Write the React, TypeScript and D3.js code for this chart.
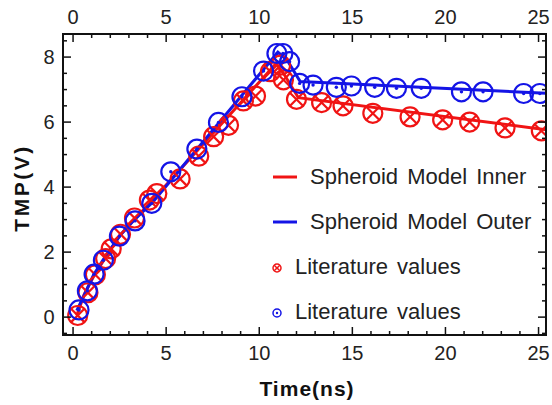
import React from "react";
import * as d3 from "d3";

const innerX = [0.25, 0.8, 1.2, 1.75, 2.05, 2.55, 3.3, 4.1, 4.5, 5.75, 6.75, 7.55, 8.35, 9.15, 9.8, 10.6, 11.15, 11.3, 12.0, 13.35, 14.5, 16.1, 18.1, 19.85, 21.3, 23.2, 25.15];
const innerY = [0.05, 0.75, 1.3, 1.8, 2.1, 2.55, 3.05, 3.6, 3.8, 4.25, 4.95, 5.55, 5.9, 6.65, 6.8, 7.55, 7.75, 7.3, 6.7, 6.6, 6.5, 6.27, 6.16, 6.07, 6.0, 5.82, 5.73];

const outerX = [0.32, 0.77, 1.13, 1.63, 2.49, 3.33, 4.23, 5.25, 6.65, 7.81, 9.07, 10.23, 10.95, 11.27, 11.63, 12.17, 12.89, 14.14, 14.95, 16.2, 17.37, 18.7, 20.86, 22.02, 24.2, 25.07];
const outerY = [0.22, 0.81, 1.32, 1.75, 2.49, 2.96, 3.5, 4.47, 5.17, 5.99, 6.78, 7.57, 8.11, 8.11, 7.86, 7.19, 7.14, 7.07, 7.11, 7.07, 7.04, 7.04, 6.93, 6.93, 6.88, 6.88];

const innerModelX = [0.2, 0.6, 1.1, 1.7, 2.5, 3.3, 4.5, 10.9, 11.3, 12.1, 25.6];
const innerModelY = [0.05, 0.7, 1.25, 1.8, 2.5, 3.0, 3.75, 7.8, 7.5, 6.75, 5.75];
const outerModelX = [0.2, 0.7, 1.1, 1.6, 2.5, 3.3, 4.3, 11.0, 11.5, 12.2, 25.6];
const outerModelY = [0.2, 0.8, 1.3, 1.75, 2.5, 3.0, 3.55, 8.15, 7.9, 7.25, 6.88];

const xTicks = [0, 5, 10, 15, 20, 25];
const yTicks = [0, 2, 4, 6, 8];
const legendLabels = ["Spheroid Model Inner", "Spheroid Model Outer", "Literature values", "Literature values"];

const RED = "#f01414";
const BLUE = "#1414e6";
const FONT = "'Liberation Sans', Arial, sans-serif";

export default function App() {
  const W = 552, H = 405;
  const L = 63, R = 546, T = 34, B = 335;
  const x = d3.scaleLinear().domain([-0.54, 25.4]).range([L, R]);
  const y = d3.scaleLinear().domain([-0.55, 8.71]).range([B, T]);
  const line = d3.line<[number, number]>().x(d => x(d[0])).y(d => y(d[1]));
  const innerLine = line(innerModelX.map((v, i) => [v, innerModelY[i]]))!;
  const outerLine = line(outerModelX.map((v, i) => [v, outerModelY[i]]))!;

  const xMinor = d3.range(0, 26, 1).filter(v => v % 5 !== 0);
  const yMinor = d3.range(-0.5, 8.75, 0.5).filter(v => Math.abs(v % 2) > 1e-9);

  const r = 9.5;
  const cross = (cx: number, cy: number, rr: number, sw: number, key: string) => {
    const d = rr * 0.7;
    return (
      <g key={key} fill="none" stroke={RED} strokeWidth={sw}>
        <circle cx={cx} cy={cy} r={rr} />
        <line x1={cx - d} y1={cy - d} x2={cx + d} y2={cy + d} />
        <line x1={cx - d} y1={cy + d} x2={cx + d} y2={cy - d} />
      </g>
    );
  };
  const dot = (cx: number, cy: number, rr: number, sw: number, key: string) => (
    <g key={key}>
      <circle cx={cx} cy={cy} r={rr} fill="none" stroke={BLUE} strokeWidth={sw} />
      <circle cx={cx} cy={cy} r={Math.max(1.2, rr * 0.18)} fill={BLUE} />
    </g>
  );

  return (
    <svg width={W} height={H} style={{ position: "absolute", left: 0, top: 0, background: "#fff" }} fontFamily={FONT}>
      <defs>
        <clipPath id="plot">
          <rect x={L} y={T} width={R - L} height={B - T} />
        </clipPath>
      </defs>
      <rect width={W} height={H} fill="#fff" />
      <g clipPath="url(#plot)">
        <path d={innerLine} fill="none" stroke={RED} strokeWidth={3} />
        <path d={outerLine} fill="none" stroke={BLUE} strokeWidth={3} />
        {innerX.map((v, i) => cross(x(v), y(innerY[i]), r, 2.2, "r" + i))}
        {outerX.map((v, i) => dot(x(v), y(outerY[i]), r, 2.2, "b" + i))}
      </g>
      <rect x={L} y={T} width={R - L} height={B - T} fill="none" stroke="#111" strokeWidth={2} />
      <g stroke="#111" strokeWidth={1.5}>
        {xTicks.map(v => (
          <g key={"xt" + v}>
            <line x1={x(v)} x2={x(v)} y1={B} y2={B - 8} />
            <line x1={x(v)} x2={x(v)} y1={T} y2={T + 8} />
          </g>
        ))}
        {xMinor.map(v => (
          <g key={"xm" + v}>
            <line x1={x(v)} x2={x(v)} y1={B} y2={B - 4} />
            <line x1={x(v)} x2={x(v)} y1={T} y2={T + 4} />
          </g>
        ))}
        {yTicks.map(v => (
          <g key={"yt" + v}>
            <line x1={L} x2={L + 8} y1={y(v)} y2={y(v)} />
            <line x1={R} x2={R - 8} y1={y(v)} y2={y(v)} />
          </g>
        ))}
        {yMinor.map(v => (
          <g key={"ym" + v}>
            <line x1={L} x2={L + 4} y1={y(v)} y2={y(v)} />
            <line x1={R} x2={R - 4} y1={y(v)} y2={y(v)} />
          </g>
        ))}
      </g>
      <g fontSize={20} fill="#222" textAnchor="middle">
        {xTicks.map(v => (
          <text key={"xb" + v} x={x(v)} y={360}>{v}</text>
        ))}
        {xTicks.map(v => (
          <text key={"xtop" + v} x={x(v)} y={24}>{v}</text>
        ))}
        {yTicks.map(v => (
          <text key={"yl" + v} x={49} y={y(v) + 7}>{v}</text>
        ))}
      </g>
      <text x={307} y={396} textAnchor="middle" fontSize={21} fontWeight="bold" fill="#111" letterSpacing={1}>Time(ns)</text>
      <text transform={`translate(29,188) rotate(-90)`} textAnchor="middle" fontSize={21} fontWeight="bold" fill="#111" letterSpacing={2.5}>TMP(V)</text>
      <g fontSize={22} fill="#222" wordSpacing={3}>
        <line x1={273} x2={297} y1={177} y2={177} stroke={RED} strokeWidth={3} />
        <text x={310} y={184}>{legendLabels[0]}</text>
        <line x1={273} x2={297} y1={222} y2={222} stroke={BLUE} strokeWidth={3} />
        <text x={310} y={229}>{legendLabels[1]}</text>
        {cross(277, 268, 4, 1.5, "lg1")}
        <text x={295} y={274}>{legendLabels[2]}</text>
        {dot(277, 313, 4, 1.5, "lg2")}
        <text x={295} y={319}>{legendLabels[3]}</text>
      </g>
    </svg>
  );
}
